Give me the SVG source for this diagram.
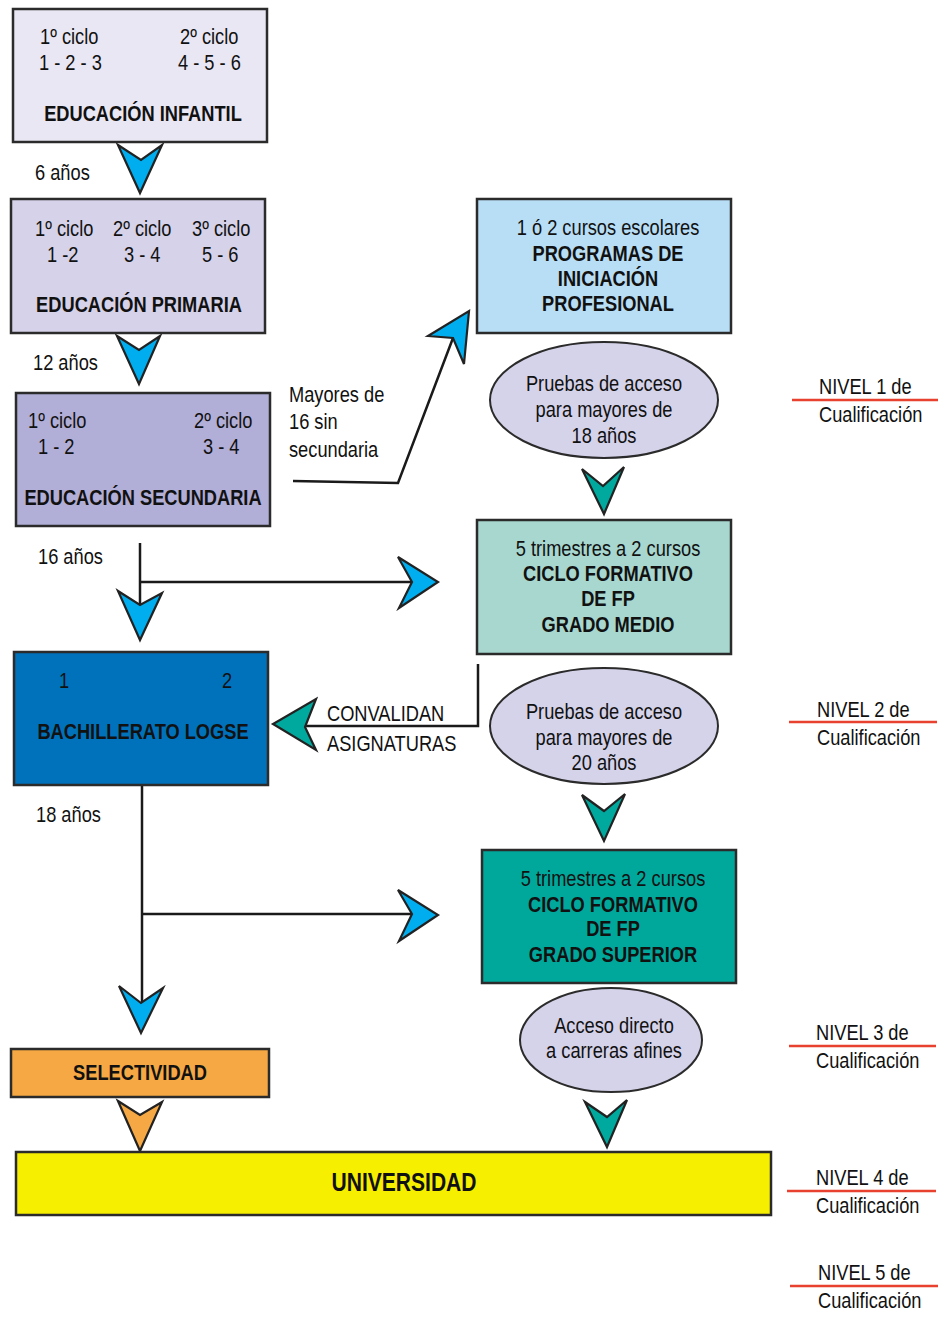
<svg xmlns="http://www.w3.org/2000/svg" width="945" height="1318" viewBox="0 0 945 1318">
<style>
text{font-family:"Liberation Sans",Arial,sans-serif;font-size:22px;fill:#111}
.b{font-weight:bold}
.m{text-anchor:middle}
.box{stroke:#2b2b2b;stroke-width:2.5}
.ell{fill:#d5d3ea;stroke:#2b2b2b;stroke-width:2}
.chev{stroke:#222;stroke-width:2.2;stroke-linejoin:miter}
.blue{fill:#00aeef}
.teal{fill:#00a99d}
.orange{fill:#f5a843}
.line{fill:none;stroke:#1a1a1a;stroke-width:2.5}
.red{stroke:#e8412f;stroke-width:2.5}
</style>
<rect width="945" height="1318" fill="#fff"/>

<g id="connectors">
<polyline class="line" points="293,481 398,483 453,338"/>
<polyline class="line" points="140,543 140,605"/>
<polyline class="line" points="140,582 412,582"/>
<polyline class="line" points="478,664 478,726 305,726"/>
<polyline class="line" points="142,786 142,1003"/>
<polyline class="line" points="142,914 412,914"/>
<polygon class="chev blue" points="118,145 141,160 162,145 140,193"/>
<polygon class="chev blue" points="117,336 139,350 160,336 139,384"/>
<polygon class="chev blue" points="428,336 453,338 464,364 469,311"/>
<polygon class="chev blue" points="398,557 412,582 399,608 438,582"/>
<polygon class="chev blue" points="118,591 140,605 162,593 140,640"/>
<polygon class="chev blue" points="398,890 412,914 399,941 438,915"/>
<polygon class="chev blue" points="119,986 141,1003 163,988 141,1033"/>
<polygon class="chev teal" points="582,469 603,486 624,467 604,514"/>
<polygon class="chev teal" points="316,699 305,727 316,750 273,724"/>
<polygon class="chev teal" points="582,795 604,811 625,794 604,841"/>
<polygon class="chev teal" points="585,1102 607,1117 627,1100 607,1147"/>
<polygon class="chev orange" points="118,1101 140,1115 162,1102 140,1151"/>
</g>

<g id="edad-labels">
<text transform="translate(35,180) scale(0.83,1)">6 años</text>
<text transform="translate(33,370) scale(0.83,1)">12 años</text>
<text transform="translate(38,564) scale(0.83,1)">16 años</text>
<text transform="translate(36,822) scale(0.83,1)">18 años</text>
<text transform="translate(289,402) scale(0.83,1)">Mayores de</text>
<text transform="translate(289,429) scale(0.83,1)">16 sin</text>
<text transform="translate(289,457) scale(0.83,1)">secundaria</text>
<text transform="translate(327,721) scale(0.83,1)">CONVALIDAN</text>
<text transform="translate(327,751) scale(0.83,1)">ASIGNATURAS</text>
</g>

<g id="infantil">
<rect class="box" x="13" y="9" width="254" height="133" fill="#e9e7f3"/>
<text transform="translate(40,44) scale(0.83,1)">1º ciclo</text>
<text transform="translate(39,70) scale(0.83,1)">1 - 2 - 3</text>
<text transform="translate(180,44) scale(0.83,1)">2º ciclo</text>
<text transform="translate(178,70) scale(0.83,1)">4 - 5 - 6</text>
<text class="b m" transform="translate(143,121) scale(0.83,1)">EDUCACIÓN INFANTIL</text>
</g>

<g id="primaria">
<rect class="box" x="11" y="199" width="254" height="134" fill="#d5d2e9"/>
<text transform="translate(35,236) scale(0.83,1)">1º ciclo</text>
<text transform="translate(47,262) scale(0.83,1)">1 -2</text>
<text transform="translate(113,236) scale(0.83,1)">2º ciclo</text>
<text transform="translate(124,262) scale(0.83,1)">3 - 4</text>
<text transform="translate(192,236) scale(0.83,1)">3º ciclo</text>
<text transform="translate(202,262) scale(0.83,1)">5 - 6</text>
<text class="b m" transform="translate(139,312) scale(0.83,1)">EDUCACIÓN PRIMARIA</text>
</g>

<g id="secundaria">
<rect class="box" x="16" y="393" width="254" height="133" fill="#b1aed7"/>
<text transform="translate(28,428) scale(0.83,1)">1º ciclo</text>
<text transform="translate(38,454) scale(0.83,1)">1 - 2</text>
<text transform="translate(194,428) scale(0.83,1)">2º ciclo</text>
<text transform="translate(203,454) scale(0.83,1)">3 - 4</text>
<text class="b m" transform="translate(143,505) scale(0.83,1)">EDUCACIÓN SECUNDARIA</text>
</g>

<g id="bachillerato">
<rect class="box" x="14" y="652" width="254" height="133" fill="#0072bc"/>
<text transform="translate(59,688) scale(0.83,1)">1</text>
<text transform="translate(222,688) scale(0.83,1)">2</text>
<text class="b m" transform="translate(143,739) scale(0.83,1)">BACHILLERATO LOGSE</text>
</g>

<g id="selectividad">
<rect class="box" x="11" y="1049" width="258" height="48" fill="#f5a843"/>
<text class="b m" transform="translate(140,1080) scale(0.83,1)">SELECTIVIDAD</text>
</g>

<g id="universidad">
<rect class="box" x="16" y="1152" width="755" height="63" fill="#f7ef00"/>
<text class="b m" style="font-size:26px" transform="translate(404,1191) scale(0.81,1)">UNIVERSIDAD</text>
</g>

<g id="programas">
<rect class="box" x="477" y="199" width="254" height="134" fill="#b8def6"/>
<text class="m" transform="translate(608,235) scale(0.83,1)">1 ó 2 cursos escolares</text>
<text class="b m" transform="translate(608,261) scale(0.83,1)">PROGRAMAS DE</text>
<text class="b m" transform="translate(608,286) scale(0.83,1)">INICIACIÓN</text>
<text class="b m" transform="translate(608,311) scale(0.83,1)">PROFESIONAL</text>
</g>

<g id="pruebas18">
<ellipse class="ell" cx="604" cy="400" rx="114" ry="58"/>
<text class="m" transform="translate(604,391) scale(0.83,1)">Pruebas de acceso</text>
<text class="m" transform="translate(604,417) scale(0.83,1)">para mayores de</text>
<text class="m" transform="translate(604,443) scale(0.83,1)">18 años</text>
</g>

<g id="grado-medio">
<rect class="box" x="477" y="520" width="254" height="134" fill="#a7d7cf"/>
<text class="m" transform="translate(608,556) scale(0.83,1)">5 trimestres a 2 cursos</text>
<text class="b m" transform="translate(608,581) scale(0.83,1)">CICLO FORMATIVO</text>
<text class="b m" transform="translate(608,606) scale(0.83,1)">DE FP</text>
<text class="b m" transform="translate(608,632) scale(0.83,1)">GRADO MEDIO</text>
</g>

<g id="pruebas20">
<ellipse class="ell" cx="604" cy="726" rx="114" ry="58"/>
<text class="m" transform="translate(604,719) scale(0.83,1)">Pruebas de acceso</text>
<text class="m" transform="translate(604,745) scale(0.83,1)">para mayores de</text>
<text class="m" transform="translate(604,770) scale(0.83,1)">20 años</text>
</g>

<g id="grado-superior">
<rect class="box" x="482" y="850" width="254" height="133" fill="#00a89c"/>
<text class="m" transform="translate(613,886) scale(0.83,1)">5 trimestres a 2 cursos</text>
<text class="b m" transform="translate(613,912) scale(0.83,1)">CICLO FORMATIVO</text>
<text class="b m" transform="translate(613,936) scale(0.83,1)">DE FP</text>
<text class="b m" transform="translate(613,962) scale(0.83,1)">GRADO SUPERIOR</text>
</g>

<g id="acceso-directo">
<ellipse class="ell" cx="611" cy="1040" rx="91" ry="52"/>
<text class="m" transform="translate(614,1033) scale(0.83,1)">Acceso directo</text>
<text class="m" transform="translate(614,1058) scale(0.83,1)">a carreras afines</text>
</g>

<g id="niveles">
<text transform="translate(819,394) scale(0.83,1)">NIVEL 1 de</text>
<line class="red" x1="792" y1="400" x2="938" y2="400"/>
<text transform="translate(819,422) scale(0.83,1)">Cualificación</text>
<text transform="translate(817,717) scale(0.83,1)">NIVEL 2 de</text>
<line class="red" x1="789" y1="722" x2="937" y2="722"/>
<text transform="translate(817,745) scale(0.83,1)">Cualificación</text>
<text transform="translate(816,1040) scale(0.83,1)">NIVEL 3 de</text>
<line class="red" x1="789" y1="1046" x2="936" y2="1046"/>
<text transform="translate(816,1068) scale(0.83,1)">Cualificación</text>
<text transform="translate(816,1185) scale(0.83,1)">NIVEL 4 de</text>
<line class="red" x1="787" y1="1191" x2="936" y2="1191"/>
<text transform="translate(816,1213) scale(0.83,1)">Cualificación</text>
<text transform="translate(818,1280) scale(0.83,1)">NIVEL 5 de</text>
<line class="red" x1="790" y1="1286" x2="938" y2="1286"/>
<text transform="translate(818,1308) scale(0.83,1)">Cualificación</text>
</g>
</svg>
